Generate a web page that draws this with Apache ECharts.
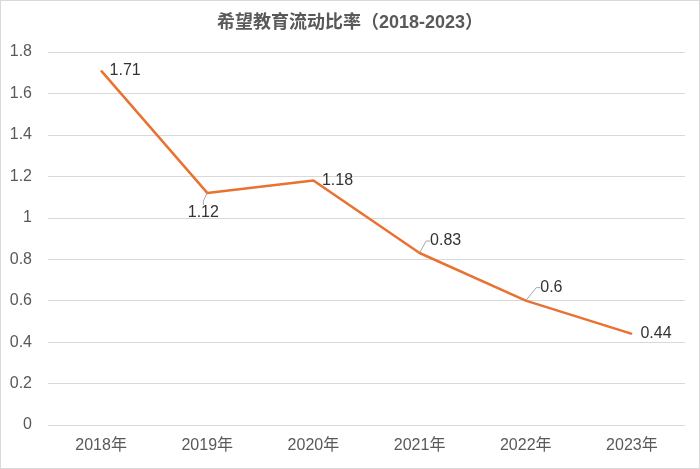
<!DOCTYPE html>
<html><head><meta charset="utf-8">
<script src="https://cdn.jsdelivr.net/npm/echarts@6/dist/echarts.min.js"></script>
<style>
html,body{margin:0;padding:0;background:#fff;}
#c{width:698px;height:467px;border:1px solid #d9d9d9;}
</style></head>
<body><div id="c"></div>
<script>
const titleText = '希望教育流动比率（2018-2023）';
const categories = ['2018年','2019年','2020年','2021年','2022年','2023年'];
const ratioValues = [1.71, 1.12, 1.18, 0.83, 0.6, 0.44];
const yTicks = [0, 0.2, 0.4, 0.6, 0.8, 1, 1.2, 1.4, 1.6, 1.8];

const FONT = "'Liberation Sans', Arial, 'Noto Sans CJK SC', sans-serif";
const chart = echarts.init(document.getElementById('c'));
// label displacement (styling only)
const labelMoves = [
  {dx: 0, dy: 0, line: false},
  {dx: -28, dy: 20, line: true},
  {dx: 0, dy: 0, line: false},
  {dx: 2, dy: -12, line: true},
  {dx: 6, dy: -13, line: true},
  {dx: 0, dy: 0, line: false}
];
const seriesData = ratioValues.map((v, i) => ({
  value: v,
  labelLine: {show: labelMoves[i].line}
}));
chart.setOption({
  animation: false,
  title: {
    text: titleText, left: 'center', top: 8,
    textStyle: {fontSize: 18, fontWeight: 'bold', color: '#595959', fontFamily: FONT}
  },
  grid: {left: 47, right: 14, top: 51, bottom: 43},
  xAxis: {
    type: 'category', data: categories, boundaryGap: true,
    axisLine: {show: false}, axisTick: {show: false},
    axisLabel: {color: '#595959', fontSize: 16, margin: 13, fontFamily: FONT}
  },
  yAxis: {
    type: 'value', min: yTicks[0], max: yTicks[yTicks.length-1], interval: 0.2,
    axisLabel: {color: '#595959', fontSize: 16, margin: 16, fontFamily: FONT,
      formatter: v => String(Math.round(v*10)/10)},
    splitLine: {lineStyle: {color: '#d9d9d9', width: 1}},
    axisLine: {show: false}, axisTick: {show: false}
  },
  series: [{
    type: 'line', data: seriesData, symbol: 'circle', symbolSize: 1, showSymbol: true,
    lineStyle: {color: '#E97132', width: 2.5},
    itemStyle: {color: '#E97132'},
    label: {show: true, position: 'right', distance: 8, color: '#333', fontSize: 16, fontFamily: FONT,
      formatter: p => String(p.value)},
    labelLine: {show: true, length2: 4, lineStyle: {color: '#a6a6a6', width: 1}},
    labelLayout: p => {
      const m = labelMoves[p.dataIndex];
      return {dx: m.dx, dy: m.dy};
    }
  }]
});
</script></body></html>
